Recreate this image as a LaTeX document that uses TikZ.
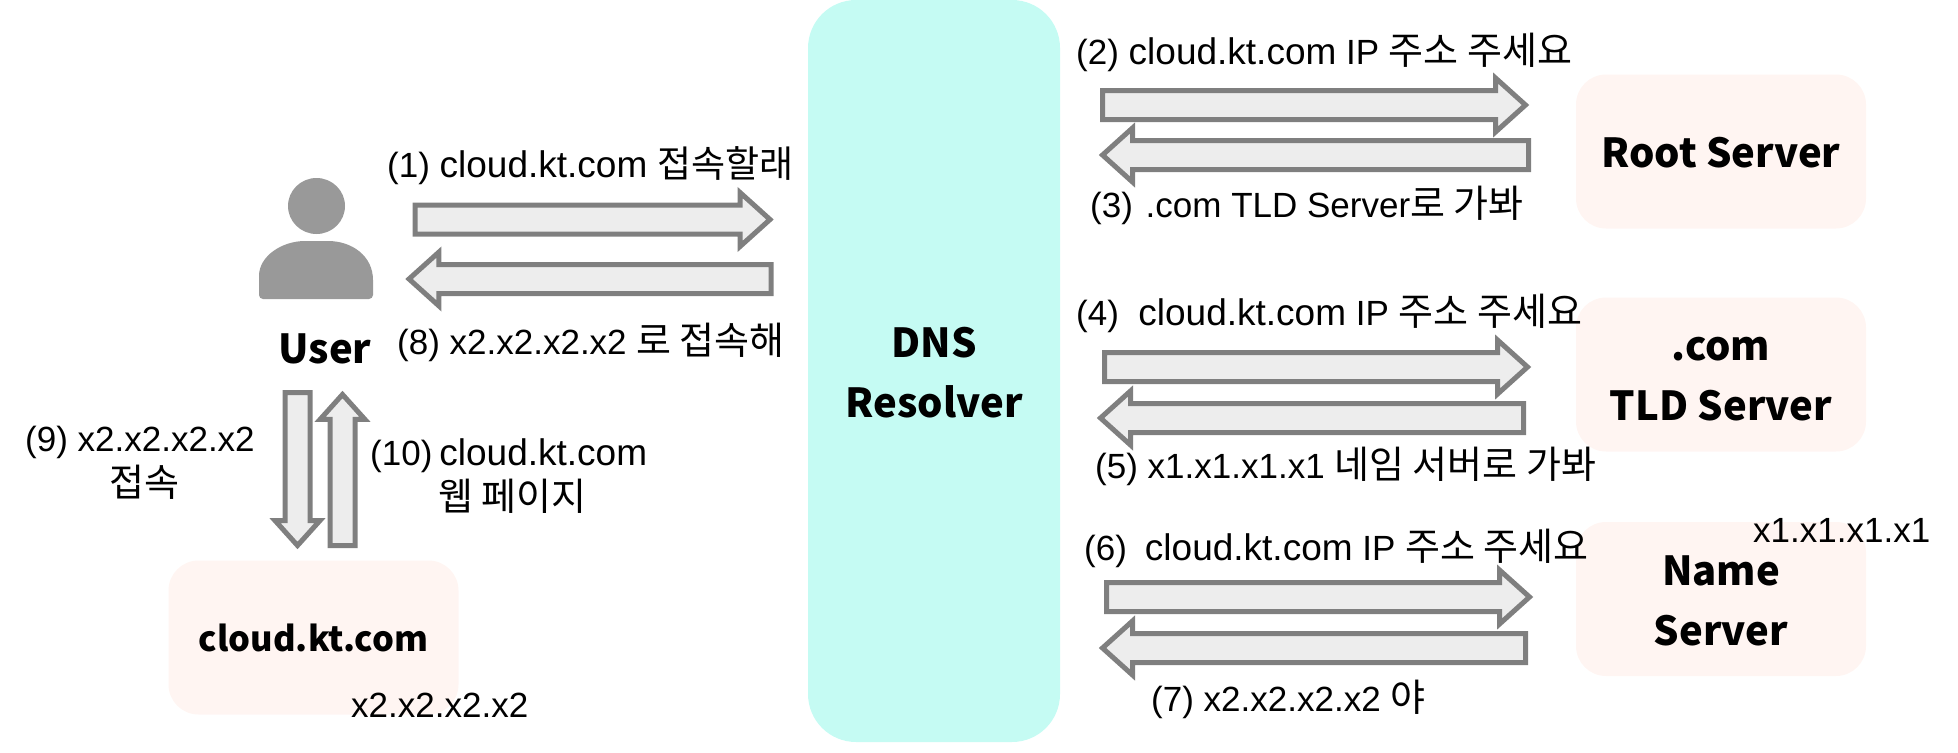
\documentclass[tikz,border=0pt]{standalone}
\usepackage{fontspec}
\setmainfont{Liberation Sans}
\newfontfamily\kr{Noto Sans CJK KR}
\newfontfamily\boldlabel{Noto Sans CJK KR}
\usetikzlibrary{shapes.arrows}
\definecolor{flowline}{HTML}{7F7F7F}
\definecolor{flowfill}{HTML}{EDEDED}
\definecolor{resolverfill}{HTML}{C5FBF3}
\definecolor{serverfill}{HTML}{FFF5F2}
\definecolor{usergray}{HTML}{999999}
\newcommand{\hangul}[1]{{\kr\fontsize{38}{42}\selectfont #1}}
\newcommand{\hostname}{{\fontsize{37}{42}\selectfont cloud.kt.com}}
\newcommand{\boxtop}{\rule{0pt}{33pt}}
\tikzset{>=stealth,
	flowarrow/.style={single arrow, draw=flowline, fill=flowfill, line width=5pt, miter limit=10, inner sep=0pt, outer sep=0pt, anchor=tail,
		text height=12pt, text depth=12pt, minimum width=49pt, single arrow head extend=12.5pt, single arrow tip angle=84},
	goleft/.style={shape border rotate=180},
	goup/.style={shape border rotate=90, text height=0pt, text depth=0pt, text width=20pt, minimum width=40pt, single arrow head extend=10pt},
	godown/.style={shape border rotate=270, text height=0pt, text depth=0pt, text width=20pt, minimum width=40pt, single arrow head extend=10pt},
	serverbox/.style={fill=serverfill, rounded corners=30pt, minimum width=290pt, minimum height=154pt, align=center, inner sep=0pt, font=\fontsize{40}{60}\selectfont\boldlabel\bfseries},
	msg/.style={anchor=base west, inner sep=0pt, font=\fontsize{35}{42}\selectfont}
}
\begin{document}
\begin{tikzpicture}[x=1pt,y=-1pt]
		\useasboundingbox (0,0) rectangle (1958,752);
		
		\node [serverbox, fill=resolverfill, rounded corners=48pt, minimum width=252pt, minimum height=742pt] (resolver) at (934,371) {\boxtop DNS\\Resolver};
		\node [serverbox] (root) at (1721,151.5) {\boxtop Root Server};
		\node [serverbox] (tld) at (1721,374.5) {\boxtop .com\\TLD Server};
		\node [serverbox] (name) at (1721,599) {\boxtop Name\\Server};
		\node [serverbox, font=\fontsize{34.5}{60}\selectfont\boldlabel\bfseries] (site) at (313.5,637.5) {cloud.kt.com};
		
		\fill [usergray] (316.5,206) ellipse [x radius=28.5, y radius=28];
		\fill [usergray, rounded corners=4pt] (259,299) -- (259,280) [sharp corners] .. controls (259,256) and (282,241) .. (305,241) -- (328,241) .. controls (352,241) and (373,256) .. (373,280) [rounded corners=4pt] -- (373,299) -- cycle;
		\node [inner sep=0pt, font=\fontsize{40}{60}\selectfont\boldlabel\bfseries] (user) at (325,349) {User};
		
		\node [flowarrow, minimum height=355pt] (ask1) at (415,219.5) {};
		\node [flowarrow, goleft, minimum height=362pt] (ans8) at (771,279) {};
		\node [flowarrow, godown, minimum height=153pt] (go9) at (297.5,392.5) {};
		\node [flowarrow, goup, minimum height=151pt] (page10) at (342.5,545.5) {};
		\node [flowarrow, minimum height=423pt] (ask2) at (1102.5,105) {};
		\node [flowarrow, goleft, minimum height=426pt] (ans3) at (1528.5,155) {};
		\node [flowarrow, minimum height=423pt] (ask4) at (1104.5,367) {};
		\node [flowarrow, goleft, minimum height=423pt] (ans5) at (1523.5,418) {};
		\node [flowarrow, minimum height=423pt] (ask6) at (1106.5,597) {};
		\node [flowarrow, goleft, minimum height=423pt] (ans7) at (1525.5,648) {};
		
		\node [msg] (msg1) at (387,177) {(1) \hostname{} {\kr\fontsize{37}{42}\selectfont 접속할래}};
		\node [msg] (msg2) at (1076,64) {(2) \hostname{} IP \hangul{주소 주세요}};
		\node [msg] (msg3) at (1090,217) {(3)\hspace{3pt} .com TLD Server\hangul{로 가봐}};
		\node [msg] (msg4) at (1076,325) {(4)\ \ \hostname{} IP \hangul{주소 주세요}};
		\node [msg] (msg5) at (1095,478) {(5) x1.x1.x1.x1 \hangul{네임 서버로 가봐}};
		\node [msg] (msg6) at (1084,560) {(6)\hspace{18pt}\hostname{} IP \hangul{주소 주세요}};
		\node [msg] (msg7) at (1151,711) {(7) x2.x2.x2.x2 \hangul{야}};
		\node [msg] (msg8) at (397,354) {(8) x2.x2.x2.x2 \hangul{로 접속해}};
		\node [msg] (msg9) at (25,451) {(9) x2.x2.x2.x2};
		\node [msg, anchor=base] (msg9b) at (144,496) {\hangul{접속}};
		\node [msg] (msg10) at (370,465) {(10)\hspace{7pt}\hostname};
		\node [msg] (msg10b) at (438,510) {\hangul{웹 페이지}};
		\node [msg] (ipsite) at (351,717) {x2.x2.x2.x2};
		\node [msg] (ipname) at (1753,542) {x1.x1.x1.x1};
		
		\end{tikzpicture}
\end{document}
